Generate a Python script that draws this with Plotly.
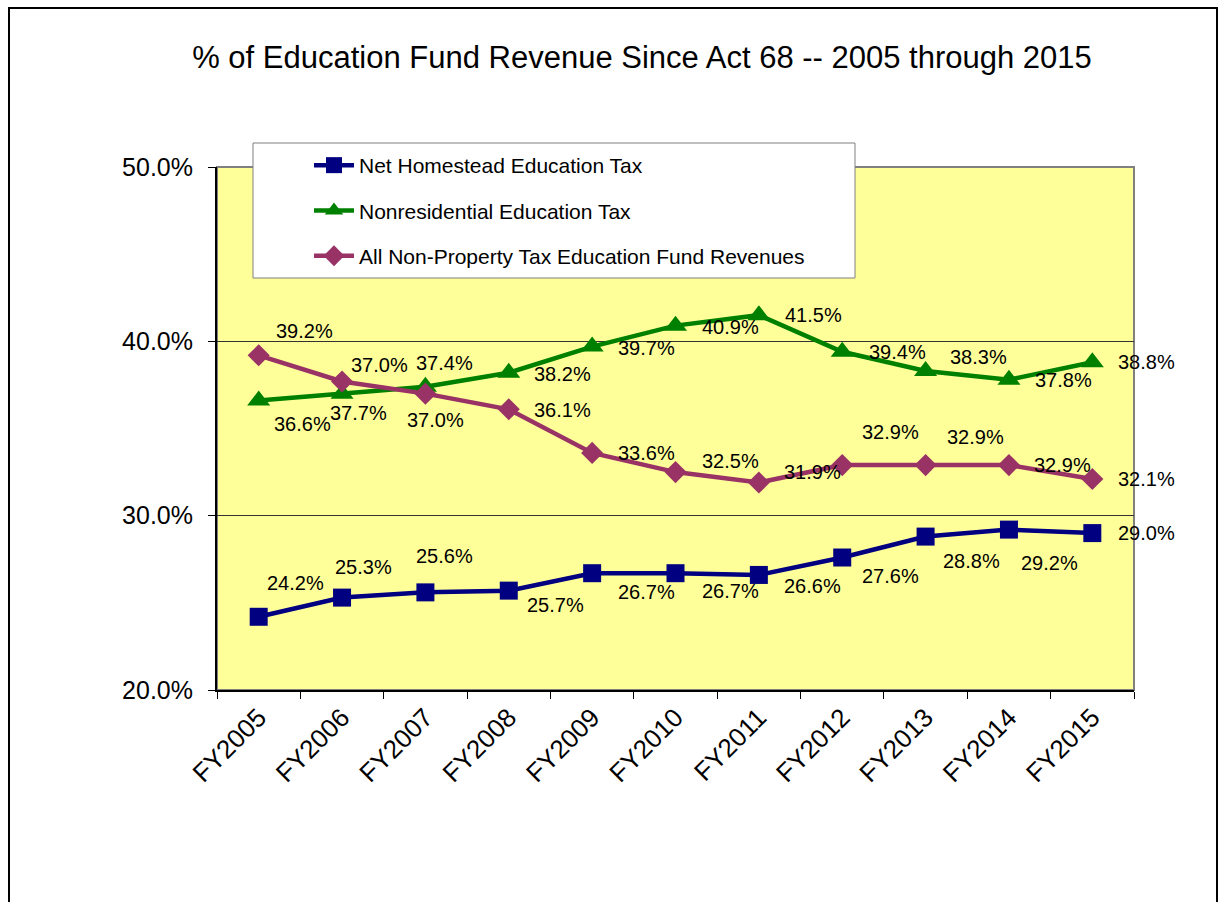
import plotly.graph_objects as go

years = ["FY2005", "FY2006", "FY2007", "FY2008", "FY2009", "FY2010",
         "FY2011", "FY2012", "FY2013", "FY2014", "FY2015"]
homestead = [24.2, 25.3, 25.6, 25.7, 26.7, 26.7, 26.6, 27.6, 28.8, 29.2, 29.0]
nonres = [36.6, 37.0, 37.4, 38.2, 39.7, 40.9, 41.5, 39.4, 38.3, 37.8, 38.8]
nonprop = [39.2, 37.7, 37.0, 36.1, 33.6, 32.5, 31.9, 32.9, 32.9, 32.9, 32.1]

names = ["Net Homestead Education Tax", "Nonresidential Education Tax",
         "All Non-Property Tax Education Fund Revenues"]

# label offsets in pixels (dx right, dy down) -- style/placement only
off_h = [(37, -34), (21, -31), (19, -36), (47, 14), (54, 19), (55, 18),
         (54, 11), (48, 18), (46, 24), (41, 33), (54, 0)]
off_n = [(44, 23), (37, -29), (19, -24), (54, 1), (54, 1), (55, 1),
         (55, 0), (55, 0), (53, -14), (55, 0), (54, 0)]
off_p = [(46, -24), (16, 32), (10, 26), (54, 1), (54, 0), (55, -11),
         (54, -11), (48, -33), (50, -28), (54, 0), (54, 0)]

W, H = 1220, 902
ML, MR, MT, MB = 217, 86, 167, 212
PW, PH = W - ML - MR, H - MT - MB
FONT = "Liberation Sans, Arial, sans-serif"


def px_x(p):
    return (p - ML) / PW


def px_y(p):
    return (H - MB - p) / PH


fig = go.Figure()
series = [
    (homestead, names[0], "#000080", "square", 18, off_h),
    (nonres, names[1], "#008000", "triangle-up", 20, off_n),
    (nonprop, names[2], "#993366", "diamond", 17, off_p),
]
for i, (vals, nm, col, sym, ms, offs) in enumerate(series):
    fig.add_trace(go.Scatter(
        x=years, y=vals, name=nm, mode="lines+markers",
        line=dict(color=col, width=4.5),
        marker=dict(symbol=sym, size=ms, color=col, line=dict(width=0)),
        legendgroup=f"g{i}",
    ))
    for x, v, (dx, dy) in zip(years, vals, offs):
        fig.add_annotation(x=x, y=v, xref="x", yref="y", text=f"{v:.1f}%",
                           showarrow=False, xshift=dx, yshift=-dy,
                           xanchor="center", yanchor="middle",
                           font=dict(family=FONT, size=20, color="black"))

shapes = [
    # outer chart border
    dict(type="rect", xref="paper", yref="paper",
         x0=px_x(9), x1=px_x(1217), y0=px_y(915), y1=px_y(8),
         line=dict(color="black", width=2), fillcolor="rgba(0,0,0,0)", layer="below"),
    # plot area border (gray)
    dict(type="rect", xref="paper", yref="paper",
         x0=0, x1=1, y0=0, y1=1,
         line=dict(color="#808080", width=2), fillcolor="rgba(0,0,0,0)", layer="below"),
    # legend box
    dict(type="rect", xref="paper", yref="paper",
         x0=px_x(253), x1=px_x(855), y0=px_y(278), y1=px_y(143),
         line=dict(color="#808080", width=1), fillcolor="white", layer="above"),
]

fig.update_layout(
    width=W, height=H,
    margin=dict(l=ML, r=MR, t=MT, b=MB),
    paper_bgcolor="white", plot_bgcolor="#FFFF99",
    font=dict(family=FONT, color="black"),
    title=dict(text="% of Education Fund Revenue Since Act 68 -- 2005 through 2015",
               x=642 / W, xref="container", xanchor="center",
               y=1 - 57 / H, yref="container", yanchor="middle",
               font=dict(family=FONT, size=31, color="black")),
    shapes=shapes,
    showlegend=True,
    legend=dict(x=px_x(309), y=px_y(145), xanchor="left", yanchor="top",
                bgcolor="rgba(0,0,0,0)", borderwidth=0,
                font=dict(family=FONT, size=21, color="black"),
                tracegroupgap=15, itemwidth=40),
    xaxis=dict(type="category", range=[-0.5, 10.5], showline=True,
               linecolor="black", linewidth=2,
               ticks="outside", ticklen=7, tickcolor="black", tickson="boundaries",
               tickangle=-45, showgrid=False, tickfont=dict(family=FONT, size=26)),
    yaxis=dict(range=[20, 50], dtick=10, tickformat=".1f", ticksuffix="%",
               showline=True, linecolor="black", linewidth=2,
               ticks="outside", ticklen=7, tickcolor="black",
               showgrid=True, gridcolor="#333333", gridwidth=1,
               zeroline=False, ticklabelstandoff=10,
               tickfont=dict(family=FONT, size=25)),
)

fig.write_html("out.html")
